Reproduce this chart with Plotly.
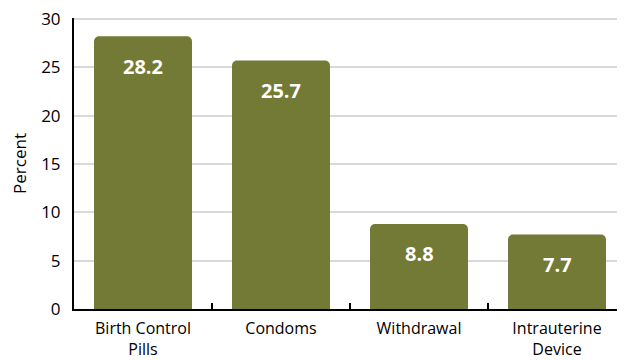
import plotly.graph_objects as go

categories = ["Birth Control<br>Pills", "Condoms", "Withdrawal", "Intrauterine<br>Device"]
values = [28.2, 25.7, 8.8, 7.7]
y_ticks = [0, 5, 10, 15, 20, 25, 30]

BAR = "#737a35"
GRID = "#d9d9d9"
FONT = "'Open Sans', Lato, sans-serif"

fig = go.Figure()
fig.add_trace(go.Bar(
    x=categories, y=values,
    marker=dict(color=BAR, line=dict(width=0), cornerradius=5),
    width=0.71, hoverinfo="skip",
))

for c, v in zip(categories, values):
    fig.add_annotation(x=c, y=v, text=f"<b>{v}</b>", showarrow=False,
                       yshift=-30, font=dict(color="white", size=20, family=FONT))

# top gridline (plotly drops the grid line sitting at the plot edge)
fig.add_shape(type="line", xref="paper", yref="y", x0=0, x1=1,
              y0=y_ticks[-1], y1=y_ticks[-1], line=dict(color=GRID, width=2), layer="below")

fig.update_layout(
    width=625, height=360,
    margin=dict(l=66, r=7, t=10, b=59),
    paper_bgcolor="white", plot_bgcolor="white",
    showlegend=False,
    font=dict(family=FONT, color="black"),
    xaxis=dict(
        showline=True, linecolor="black", linewidth=2, automargin=False,
        ticks="inside", tickson="boundaries", ticklen=6, tickcolor="black", tickwidth=2,
        tickfont=dict(size=16, color="black"), showgrid=False, ticklabelstandoff=4,
    ),
    yaxis=dict(
        range=[0, 30.1], tickvals=y_ticks, showline=True, linecolor="black", linewidth=2,
        showgrid=True, gridcolor=GRID, gridwidth=2, zeroline=False, automargin=False,
        tickfont=dict(size=17, color="black"), ticks="", ticklabelstandoff=8,
        ticklabeloverflow="allow",
        title=dict(text="Percent", font=dict(size=17, color="black"), standoff=24),
    ),
)

fig.write_html("out.html")
